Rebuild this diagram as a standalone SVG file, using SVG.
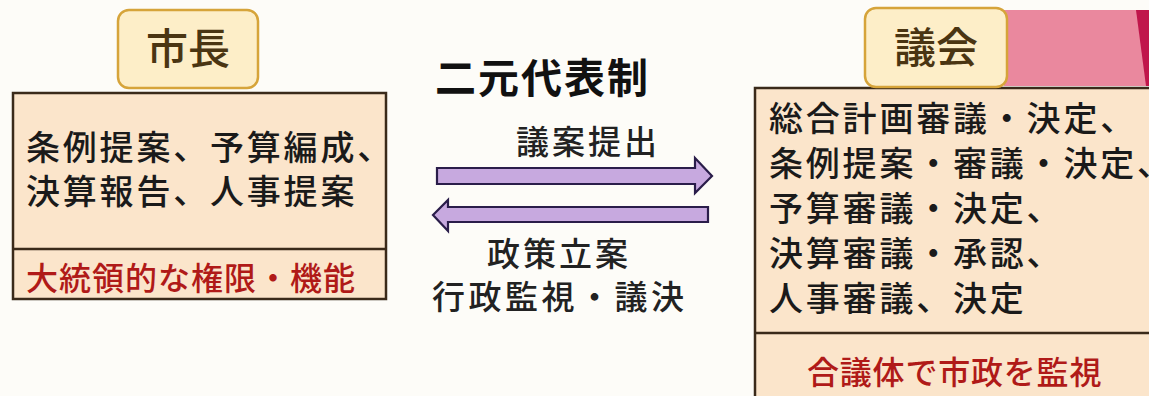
<svg xmlns="http://www.w3.org/2000/svg" width="1149" height="396" viewBox="0 0 1149 396">
<style>
text{font-family:"Noto Sans CJK JP","Noto Sans CJK SC",sans-serif;}
.lbl{fill:#fdeec8;stroke:#d6a43a;stroke-width:2.5;}
.lbltxt{font-size:42px;fill:#4a3512;text-anchor:middle;font-weight:500;}
.box{fill:#fbe5cb;stroke:#3a2a1a;stroke-width:2.5;}
.body{font-size:34px;fill:#1a1a1a;letter-spacing:2.8px;font-weight:500;}
.red{font-size:32px;fill:#b01a18;font-weight:500;}
.mid{font-size:33px;fill:#222;font-weight:500;}
.arrow{fill:#c7a9df;stroke:#2a1d4a;stroke-width:2.2;stroke-linejoin:miter;}
</style>
<rect width="1149" height="396" fill="#fdfcf8"/>
<g id="pink-band">
<rect x="1004" y="10" width="145" height="76" fill="#ea889e"/>
<polygon points="1136,10 1149,10 1149,86 1146,86" fill="#c0164b"/>
</g>
<g id="mayor">
<rect class="box" x="13" y="93" width="373" height="206"/>
<line x1="13" y1="249" x2="386" y2="249" stroke="#3a2a1a" stroke-width="2.5"/>
<rect class="lbl" x="118" y="10" width="140" height="78" rx="11"/>
<text class="lbltxt" x="188" y="64">市長</text>
<text class="body" x="26" y="160">条例提案、予算編成、</text>
<text class="body" x="26" y="204">決算報告、人事提案</text>
<text class="red" x="26" y="290" letter-spacing="1">大統領的な権限・機能</text>
</g>
<g id="council">
<rect class="box" x="755" y="88" width="410" height="320"/>
<line x1="755" y1="333" x2="1149" y2="333" stroke="#3a2a1a" stroke-width="2.5"/>
<rect class="lbl" x="865" y="8" width="142" height="79" rx="11"/>
<text class="lbltxt" x="936" y="63">議会</text>
<text class="body" x="769" y="131" letter-spacing="2.5">総合計画審議・決定、</text>
<text class="body" x="769" y="176" letter-spacing="2.5">条例提案・審議・決定、</text>
<text class="body" x="769" y="221" letter-spacing="2.5">予算審議・決定、</text>
<text class="body" x="769" y="266" letter-spacing="2.5">決算審議・承認、</text>
<text class="body" x="769" y="311" letter-spacing="2.5">人事審議、決定</text>
<text class="red" x="807" y="384" letter-spacing="0.8">合議体で市政を監視</text>
</g>
<g id="title">
<text x="435" y="93" font-size="41" font-weight="bold" fill="#111" letter-spacing="2">二元代表制</text>
</g>
<g id="connectors">
<polygon class="arrow" points="437,168 695,168 695,158 712,176 695,193 695,184 437,184"/>
<polygon class="arrow" points="708,207 448,207 448,200 433,215 448,231 448,222 708,222"/>
</g>
<g id="labels">
<text class="mid" x="516" y="154" letter-spacing="3">議案提出</text>
<text class="mid" x="487" y="266" letter-spacing="3">政策立案</text>
<text class="mid" x="432" y="309" letter-spacing="3.5">行政監視・議決</text>
</g>
</svg>
